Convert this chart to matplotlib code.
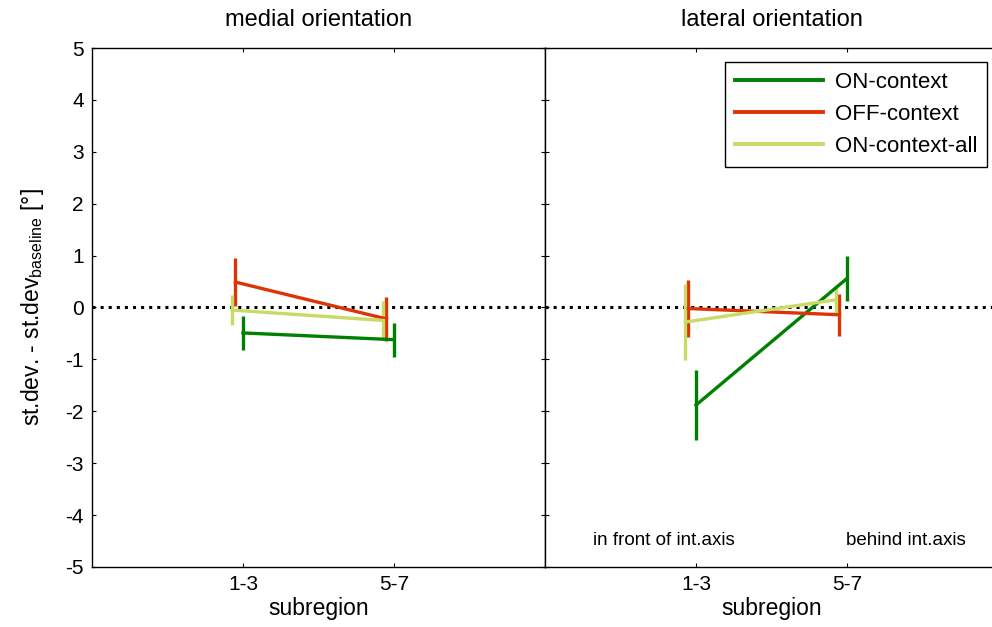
import matplotlib
matplotlib.use('Agg')
import matplotlib.pyplot as plt
from matplotlib.lines import Line2D
import numpy as np

plt.rcParams['font.family'] = ['Liberation Sans', 'DejaVu Sans']
plt.rcParams['mathtext.fontset'] = 'custom'
plt.rcParams['mathtext.rm'] = 'Liberation Sans'
plt.rcParams['axes.unicode_minus'] = False

# subregion positions on the x axis (1-3, 5-7)
xpos = np.array([1, 2])
tick_labels = ['1-3', '5-7', '']

series_names = ['ON-context', 'OFF-context', 'ON-context-all']
series_colors = [(0.0, 0.5, 0.0), (0.87, 0.2, 0.02), (0.78, 0.86, 0.40)]
# small horizontal shift so the error bars don't sit on top of each other
series_shift = [0.0, -0.05, -0.07]

# medial orientation: mean and error per subregion
medial_mean = [[-0.49, -0.62], [0.49, -0.22], [-0.05, -0.25]]
medial_err = [[0.33, 0.33], [0.46, 0.42], [0.29, 0.38]]

# lateral orientation
lateral_mean = [[-1.88, 0.56], [-0.02, -0.14], [-0.28, 0.15]]
lateral_err = [[0.67, 0.43], [0.55, 0.40], [0.73, 0.25]]

W, H = 992, 627
fig = plt.figure(figsize=(W / 100, H / 100), dpi=100)
ax_l = fig.add_axes([92 / W, 1 - 567 / H, 453 / W, 519 / H])
ax_r = fig.add_axes([545 / W, 1 - 567 / H, 453 / W, 519 / H])

panels = [(ax_l, medial_mean, medial_err, 'medial orientation'),
          (ax_r, lateral_mean, lateral_err, 'lateral orientation')]

for ax, means, errs, title in panels:
    for name, col, dx, m, e in zip(series_names, series_colors, series_shift, means, errs):
        ax.errorbar(xpos + dx, m, yerr=e, color=col, lw=2.4, elinewidth=2.4,
                    capsize=0, label=name)
    ax.axhline(0, color='k', ls=':', lw=2.2, zorder=0)
    ax.set_xlim(0, 3)
    ax.set_ylim(-5, 5)
    ax.set_xticks([1, 2, 3])
    ax.set_xticklabels(tick_labels)
    ax.set_yticks(np.arange(-5, 6, 1))
    ax.tick_params(direction='in', top=True, right=True, length=3, labelsize=15,
                   width=0.8, pad=6)
    ax.set_xlabel('subregion', fontsize=16.5, labelpad=2)
    ax.set_title(title, fontsize=17, pad=16)
    for sp in ax.spines.values():
        sp.set_linewidth(1.0)

ax_r.set_yticklabels([])
ax_l.set_ylabel(r'st.dev. - st.dev$_{\mathrm{baseline}}$ [°]', fontsize=16.5, labelpad=14)

ax_r.text(0.79, -4.48, 'in front of int.axis', fontsize=13.5, ha='center', va='center')
ax_r.text(2.39, -4.48, 'behind int.axis', fontsize=13.5, ha='center', va='center')

handles = [Line2D([], [], color=c, lw=2.8) for c in series_colors]
leg = ax_r.legend(handles, series_names, loc='upper right',
                  bbox_to_anchor=(987 / W, 1 - 62 / H),
                  bbox_transform=fig.transFigure, borderaxespad=0, fontsize=16,
                  fancybox=False, edgecolor='k', framealpha=1, handlelength=4.0,
                  handletextpad=0.5, labelspacing=0.5, borderpad=0.45)
leg.get_frame().set_linewidth(1.0)

fig.savefig('out.png', dpi=100)
